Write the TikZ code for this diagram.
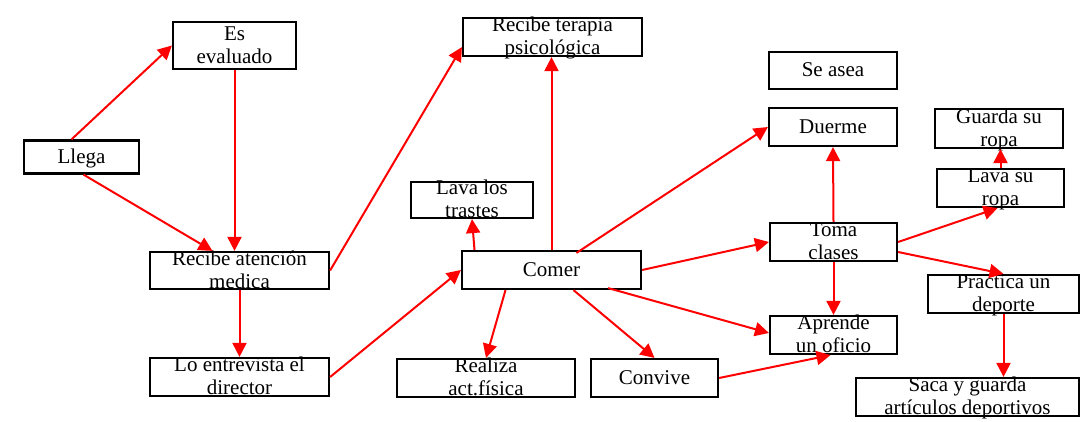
\documentclass[tikz,border=0pt]{standalone}
\usepackage{fontspec}
\setmainfont{Liberation Serif}
\usetikzlibrary{arrows.meta}
% 文字不占高度，可压在方框线上
\newcommand{\etiq}[1]{\raisebox{-7pt}[0pt][0pt]{\begin{tabular}{@{}c@{}}#1\end{tabular}}}

\begin{document}
\begin{tikzpicture}[x=1pt, y=-1pt, >={Triangle[length=14pt,width=14pt]},
	caja/.style={draw, line width=2.2pt, inner sep=0pt, minimum height=38pt, font=\fontsize{21}{23}\selectfont},
	flecha/.style={->, red, line width=2pt}]
	\useasboundingbox (0,0) rectangle (1087,422);
	
	% 左列 (入院流程)
	\node[caja, minimum width=115pt, minimum height=33pt] (llega) at (81.5,157) {\etiq{Llega}};
	\node[caja, minimum width=123pt, minimum height=47pt] (evaluado) at (234.5,45.5) {\etiq{Es\\evaluado}};
	\node[caja, minimum width=179pt, minimum height=37pt] (atencion) at (239.5,270.5) {\etiq{Recibe atención\\medica}};
	\node[caja, minimum width=179pt] (entrevista) at (239.5,377) {\etiq{Lo entrevista el\\director}};
	
	% 中列 (Comer 为中心)
	\node[caja, minimum width=179pt] (terapia) at (552.5,37) {\etiq{Recibe terapia\\psicológica}};
	\node[caja, minimum width=122pt, minimum height=36pt] (trastes) at (472,200) {\etiq{Lava los\\trastes}};
	\node[caja, minimum width=179pt] (comer) at (551.5,270) {\etiq{Comer}};
	\node[caja, minimum width=178pt] (realiza) at (486,378) {\etiq{Realiza\\act.física}};
	\node[caja, minimum width=127pt] (convive) at (654.5,378) {\etiq{Convive}};
	
	% 右侧
	\node[caja, minimum width=128pt, minimum height=37pt] (asea) at (833,70.5) {\etiq{Se asea}};
	\node[caja, minimum width=128pt] (duerme) at (833,127) {\etiq{Duerme}};
	\node[caja, minimum width=127pt] (toma) at (833.5,242) {\etiq{Toma\\clases}};
	\node[caja, minimum width=127pt] (aprende) at (833.5,335) {\etiq{Aprende\\un oficio}};
	\node[caja, minimum width=128pt, minimum height=39pt] (guarda) at (999,128.5) {\etiq{Guarda su\\ropa}};
	\node[caja, minimum width=127pt] (lavaropa) at (1000.5,188) {\etiq{Lava su\\ropa}};
	\node[caja, minimum width=151pt] (practica) at (1003.5,294) {\etiq{Practica un\\deporte}};
	\node[caja, minimum width=223pt] (saca) at (967.5,397) {\etiq{Saca y guarda\\artículos deportivos}};
	
	% 连线
	\draw[flecha] ([xshift=-10pt]llega.north) -- (evaluado.west);
	\draw[flecha] ([xshift=2pt]llega.south) -- ([xshift=-27pt]atencion.north);
	\draw[flecha] (evaluado.south) -- (evaluado.south |- atencion.north);
	\draw[flecha] (atencion.south) -- (entrevista.north);
	\draw[flecha] (atencion.east) -- ([yshift=10pt]terapia.south west);
	\draw[flecha] (entrevista.east) -- (comer.west);
	\draw[flecha] (comer.north) -- (comer.north |- terapia.south);
	\draw[flecha] ([xshift=-77pt]comer.north) -- (trastes.south);
	\draw[flecha] ([xshift=25pt,yshift=-3pt]comer.north) -- (duerme.west);
	\draw[flecha] (comer.east) -- (toma.west);
	\draw[flecha] ([xshift=-34pt,yshift=2pt]comer.south east) -- ([yshift=2pt]aprende.west);
	\draw[flecha] ([xshift=-46pt]comer.south) -- (realiza.north);
	\draw[flecha] ([xshift=22pt]comer.south) -- (convive.north);
	\draw[flecha] (convive.east) -- ([xshift=-3pt]aprende.south);
	\draw[flecha] (toma.north) -- (duerme.south);
	\draw[flecha] (toma.south) -- (aprende.north);
	\draw[flecha] (toma.east) -- ([xshift=-3pt]lavaropa.south);
	\draw[flecha] ([yshift=-10pt]toma.east) -- (practica.north);
	\draw[flecha] (lavaropa.north) -- (lavaropa.north |- guarda.south);
	\draw[flecha] (practica.south) -- (practica.south |- saca.north);
\end{tikzpicture}
\end{document}
